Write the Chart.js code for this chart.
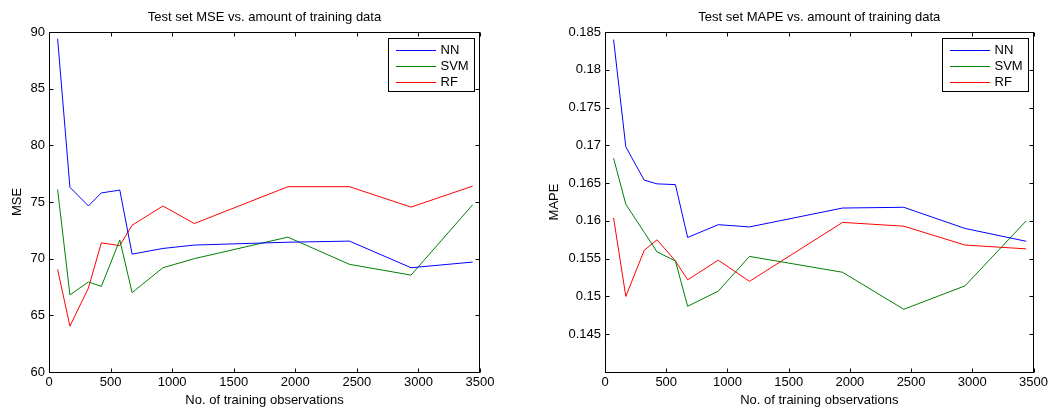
<!DOCTYPE html>
<html><head><meta charset="utf-8">
<script src="https://cdn.jsdelivr.net/npm/chart.js@4.4.1/dist/chart.umd.min.js"></script>
<style>
html,body{margin:0;padding:0;background:#fff;width:1051px;height:408px;overflow:hidden;}
#a{position:absolute;left:0;top:0;}
#b{position:absolute;left:525px;top:0;}
</style></head><body>
<canvas id="a" width="520" height="408"></canvas>
<canvas id="b" width="526" height="408"></canvas>
<script>
// ---- data ----
const trainSizes = [70, 170, 320, 425, 575, 675, 925, 1180, 1940, 2440, 2940, 3440];
const seriesNames = ['NN', 'SVM', 'RF'];
const seriesColors = ['#0000ff', '#008000', '#ff0000'];

const mseNN  = [89.4, 76.3, 74.65, 75.8, 76.05, 70.4, 70.9, 71.2, 71.45, 71.55, 69.2, 69.7];
const mseSVM = [76.1, 66.8, 67.95, 67.55, 71.65, 67.0, 69.2, 70.0, 71.9, 69.5, 68.55, 74.75];
const mseRF  = [69.05, 64.05, 67.4, 71.4, 71.15, 72.95, 74.65, 73.1, 76.35, 76.35, 74.55, 76.4];

const mapeNN  = [0.1840, 0.1698, 0.1654, 0.1649, 0.1648, 0.1578, 0.1595, 0.1592, 0.1617, 0.1618, 0.1590, 0.1573];
const mapeSVM = [0.1683, 0.1622, 0.1585, 0.1559, 0.1547, 0.1487, 0.1507, 0.1553, 0.1532, 0.1483, 0.1514, 0.1600];
const mapeRF  = [0.1604, 0.1500, 0.1561, 0.1575, 0.1547, 0.1522, 0.1548, 0.1520, 0.1598, 0.1593, 0.1568, 0.1563];

const xTickValues = [0, 500, 1000, 1500, 2000, 2500, 3000, 3500];
const mseTickValues = [60, 65, 70, 75, 80, 85, 90];
const mapeTickValues = [0.145, 0.15, 0.155, 0.16, 0.165, 0.17, 0.175, 0.18, 0.185];

const FONT = "'Liberation Sans', Arial, Helvetica, sans-serif";

// ---- plugins ----
const matlabFrame = {
  id: 'matlabFrame',
  afterDatasetsDraw(chart) {
    const {ctx, chartArea: a, scales: {x, y}} = chart;
    ctx.save();
    ctx.strokeStyle = '#000';
    ctx.lineWidth = 1;
    const L = Math.round(a.left) + 0.5, R = Math.round(a.right) - 0.5;
    const T = Math.round(a.top) + 0.5, B = Math.round(a.bottom) + 0.5;
    ctx.strokeRect(L, T, R - L, B - T);
    const tl = 4;
    ctx.beginPath();
    x.ticks.forEach(t => {
      const px = Math.round(x.getPixelForValue(t.value)) + 0.5;
      ctx.moveTo(px, B); ctx.lineTo(px, B - tl);
      ctx.moveTo(px, T); ctx.lineTo(px, T + tl);
    });
    y.ticks.forEach(t => {
      const py = Math.round(y.getPixelForValue(t.value)) + 0.5;
      ctx.moveTo(L, py); ctx.lineTo(L + tl, py);
      ctx.moveTo(R, py); ctx.lineTo(R - tl, py);
    });
    ctx.stroke();
    ctx.restore();
  },
  afterDraw(chart) {
    const {ctx, chartArea: a} = chart;
    const w = 86, h = 53;
    const bx = Math.round(a.right - 6 - w) + 0.5, by = Math.round(a.top + 6) + 0.5;
    ctx.save();
    ctx.fillStyle = '#fff';
    ctx.fillRect(bx, by, w, h);
    ctx.strokeStyle = '#000';
    ctx.lineWidth = 1;
    ctx.strokeRect(bx, by, w, h);
    ctx.font = '13px ' + FONT;
    ctx.textBaseline = 'middle';
    ctx.textAlign = 'left';
    chart.data.datasets.forEach((ds, i) => {
      const ry = Math.round(by + 11 + i * 16) + 0.5;
      ctx.strokeStyle = ds.borderColor;
      ctx.beginPath();
      ctx.moveTo(bx + 7.5, ry); ctx.lineTo(bx + 47.5, ry);
      ctx.stroke();
      ctx.fillStyle = '#000';
      ctx.fillText(ds.label, bx + 52, ry);
    });
    ctx.restore();
  }
};

function makeChart(id, title, yTitle, yMin, yMax, yTicks, seriesList, yWidth, padRight, yTitlePad) {
  return new Chart(document.getElementById(id), {
    type: 'line',
    data: {
      datasets: seriesList.map((vals, i) => ({
        label: seriesNames[i],
        data: trainSizes.map((xv, k) => ({x: xv, y: vals[k]})),
        borderColor: seriesColors[i],
        backgroundColor: seriesColors[i],
        borderWidth: 1,
        pointRadius: 0,
        tension: 0,
        fill: false
      }))
    },
    options: {
      responsive: false,
      animation: false,
      devicePixelRatio: 1,
      layout: {padding: {top: 0, right: padRight, bottom: 0, left: 0}},
      plugins: {
        legend: {display: false},
        tooltip: {enabled: false},
        title: {
          display: true, text: title, fullSize: false, color: '#000',
          font: {family: FONT, size: 13, weight: 'normal', lineHeight: '16px'},
          padding: {top: 9, bottom: 7}
        }
      },
      scales: {
        x: {
          type: 'linear', position: 'bottom', min: 0, max: 3500,
          afterBuildTicks: s => { s.ticks = xTickValues.map(v => ({value: v})); },
          afterFit: s => { s.height = 36; },
          grid: {display: false, drawTicks: false},
          border: {display: false},
          ticks: {color: '#000', padding: 3, maxRotation: 0, autoSkip: false,
                  font: {family: FONT, size: 13}, callback: v => String(v)},
          title: {display: true, text: 'No. of training observations', color: '#000',
                  font: {family: FONT, size: 13, lineHeight: '16px'}, padding: {top: 0, bottom: 0}}
        },
        y: {
          type: 'linear', position: 'left', min: yMin, max: yMax,
          afterBuildTicks: s => { s.ticks = yTicks.map(v => ({value: v})); },
          afterFit: s => { s.width = yWidth; },
          grid: {display: false, drawTicks: false},
          border: {display: false},
          ticks: {color: '#000', padding: 4, autoSkip: false,
                  font: {family: FONT, size: 13}, callback: v => String(v)},
          title: {display: true, text: yTitle, color: '#000',
                  font: {family: FONT, size: 13, lineHeight: '16px'}, padding: {top: yTitlePad, bottom: 0}}
        }
      }
    },
    plugins: [matlabFrame]
  });
}

makeChart('a', 'Test set MSE vs. amount of training data', 'MSE', 60, 90, mseTickValues,
          [mseNN, mseSVM, mseRF], 49, 40, 9.5);
makeChart('b', 'Test set MAPE vs. amount of training data', 'MAPE', 0.14, 0.185, mapeTickValues,
          [mapeNN, mapeSVM, mapeRF], 80, 15, 21);
</script>
</body></html>
